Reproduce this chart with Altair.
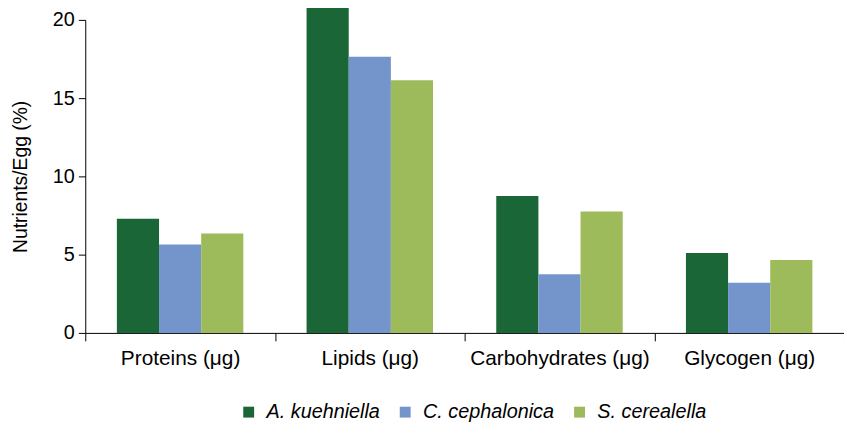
import altair as alt
import pandas as pd

categories = ["Proteins (μg)", "Lipids (μg)", "Carbohydrates (μg)", "Glycogen (μg)"]
series = ["A. kuehniella", "C. cephalonica", "S. cerealella"]
a_kuehniella = [7.3, 20.8, 8.75, 5.1]
c_cephalonica = [5.65, 17.65, 3.75, 3.2]
s_cerealella = [6.35, 16.15, 7.75, 4.65]
colors = ["#1b6636", "#7494cc", "#9dbb5b"]

rows = []
for s, vals in zip(series, [a_kuehniella, c_cephalonica, s_cerealella]):
    for c, v in zip(categories, vals):
        rows.append({"category": c, "species": s, "value": v})
df = pd.DataFrame(rows)

FONT = "Liberation Sans"

chart = alt.Chart(df).mark_bar().encode(
    x=alt.X("category:N", sort=categories,
            scale=alt.Scale(paddingInner=0, paddingOuter=0),
            axis=alt.Axis(title=None, labelAngle=0, tickBand="extent", tickSize=8,
                          labelPadding=7, labelFontSize=21, labelFont=FONT, labelLimit=0,
                          labelColor="black", domainColor="black", tickColor="black",
                          grid=False)),
    xOffset=alt.XOffset("species:N", sort=series,
                        scale=alt.Scale(paddingInner=0, paddingOuter=0.75)),
    y=alt.Y("value:Q", scale=alt.Scale(domain=[0, 20], nice=False),
            axis=alt.Axis(title="Nutrients/Egg (%)", values=[0, 5, 10, 15, 20],
                          tickSize=7, labelPadding=4, labelFontSize=20, labelFont=FONT,
                          labelColor="black", titleFont=FONT, titleFontSize=19.5,
                          titleFontWeight="normal", titleColor="black", titlePadding=22,
                          domainColor="black", tickColor="black", grid=False)),
    color=alt.Color("species:N", sort=series,
                    scale=alt.Scale(domain=series, range=colors),
                    legend=alt.Legend(title=None, orient="none", direction="horizontal",
                                      legendX=155, legendY=386, symbolType="square",
                                      symbolSize=121, symbolStrokeWidth=0,
                                      labelFontSize=20, labelFont=FONT, labelLimit=300,
                                      labelFontStyle="italic", labelColor="black",
                                      labelOffset=8, columnPadding=15, padding=0)),
).properties(
    width=766, height=316,
    autosize=alt.AutoSizeParams(type="none"),
    padding={"left": 78, "top": 10, "right": 0, "bottom": 93},
).configure_view(stroke=None)

chart.save("out.html", embed_options={"renderer": "svg", "actions": False})
